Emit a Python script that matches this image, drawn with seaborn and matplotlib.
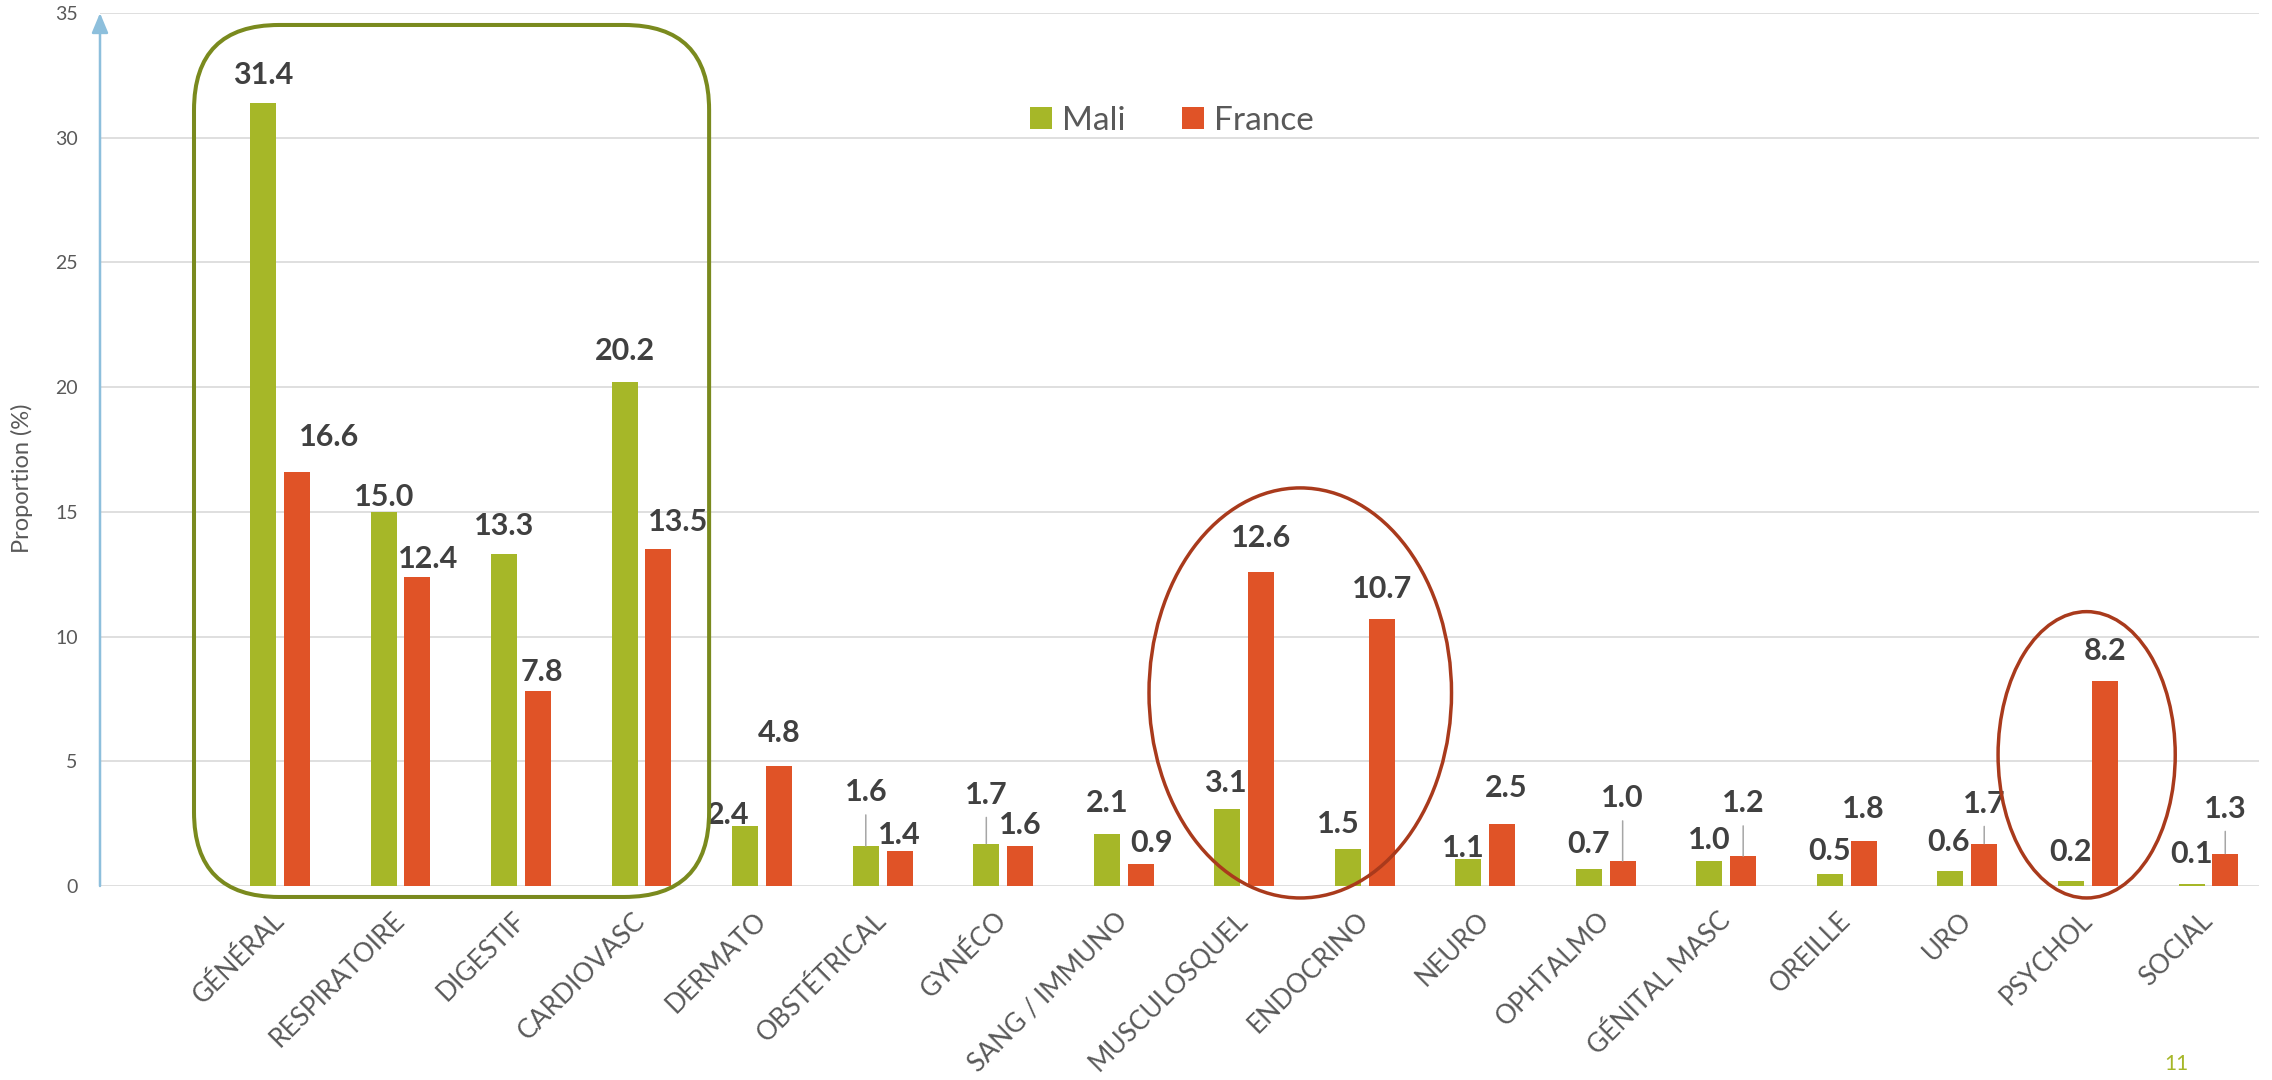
import matplotlib
matplotlib.use("Agg")
import matplotlib.pyplot as plt
from matplotlib.patches import Ellipse, FancyBboxPatch, Patch
from matplotlib.transforms import IdentityTransform
import seaborn as sns
import pandas as pd

categories = ["GÉNÉRAL", "RESPIRATOIRE", "DIGESTIF", "CARDIOVASC", "DERMATO",
              "OBSTÉTRICAL", "GYNÉCO", "SANG / IMMUNO", "MUSCULOSQUEL", "ENDOCRINO",
              "NEURO", "OPHTALMO", "GÉNITAL MASC", "OREILLE", "URO", "PSYCHOL", "SOCIAL"]
mali = [31.4, 15.0, 13.3, 20.2, 2.4, 1.6, 1.7, 2.1, 3.1, 1.5, 1.1, 0.7, 1.0, 0.5, 0.6, 0.2, 0.1]
france = [16.6, 12.4, 7.8, 13.5, 4.8, 1.4, 1.6, 0.9, 12.6, 10.7, 2.5, 1.0, 1.2, 1.8, 1.7, 8.2, 1.3]
series = ["Mali", "France"]
y_ticks = [0, 5, 10, 15, 20, 25, 30, 35]

# décalage des étiquettes (pixels) comme placées à la main dans Excel
mali_nudge = [(0, 28), (0, 15), (0, 28), (0, 31), (-17, 11), (0, 54), (0, 49), (0, 31), (-2, 26),
              (-10, 25), (-5, 11), (0, 25), (0, 21), (0, 23), (-2, 29), (0, 29), (0, 30)]
france_nudge = [(32, 35), (11, 18), (4, 19), (20, 27), (0, 33), (0, 16), (0, 21), (11, 21), (0, 34),
                (0, 30), (4, 36), (0, 63), (0, 53), (0, 32), (0, 40), (0, 30), (0, 45)]

GREEN = "#A6B728"
ORANGE = "#E05327"
OLIVE = "#7A8A1E"
BRICK = "#A93A1C"
GREY = "#595959"

sns.set_style("white")
plt.rcParams["font.family"] = ["Lato", "DejaVu Sans"]

df = pd.DataFrame({
    "Catégorie": categories * 2,
    "Pays": ["Mali"] * len(categories) + ["France"] * len(categories),
    "Proportion": mali + france,
})

fig = plt.figure(figsize=(22.72, 10.8), dpi=100)
ax = fig.add_axes([100 / 2272, 194 / 1080, 2159 / 2272, 873 / 1080])
sns.barplot(data=df, x="Catégorie", y="Proportion", hue="Pays", order=categories,
            hue_order=series, palette=[GREEN, ORANGE], saturation=1, width=0.56, gap=0.23,
            linewidth=0, errorbar=None, legend=False, ax=ax)

ax.set_xlim(-1.494, 16.42)
ax.set_ylim(0, 35)
ax.set_yticks(y_ticks)
ax.yaxis.grid(True, color="#D9D9D9", lw=1.2)
ax.xaxis.grid(False)
ax.set_axisbelow(True)
for s in ax.spines.values():
    s.set_visible(False)
ax.tick_params(axis="both", length=0)
ax.tick_params(axis="y", labelsize=14, labelcolor=GREY, pad=16)
ax.tick_params(axis="x", labelsize=19, labelcolor=GREY, pad=22)
ax.set_xticks(range(len(categories)))
ax.set_xticklabels(categories, rotation=45, ha="right", va="center", rotation_mode="anchor")
ax.set_xlabel("")
ax.set_ylabel("Proportion (%)", fontsize=17, color=GREY)
ax.yaxis.set_label_coords(-0.031, 0.467)

# axe vertical en flèche
ax.annotate("", xy=(0, 1), xytext=(0, 0), xycoords="axes fraction",
            arrowprops=dict(arrowstyle="-|>,head_length=0.6,head_width=0.25", color="#8DBFDC",
                            lw=1.8, mutation_scale=20, shrinkA=0, shrinkB=0))

# étiquettes de données
for container, nudges in zip(ax.containers, [mali_nudge, france_nudge]):
    for bar, (dx, dy) in zip(container, nudges):
        x = bar.get_x() + bar.get_width() / 2
        h = bar.get_height()
        leader = None
        if dy > 38:
            leader = dict(arrowstyle="-", color="#A6A6A6", lw=1.1, shrinkA=4, shrinkB=0)
        ax.annotate(f"{h:.1f}", xy=(x, h), xytext=(dx, dy), textcoords="offset pixels",
                    ha="center", va="center", fontsize=22, fontweight="bold", color="#404040",
                    arrowprops=leader, annotation_clip=False, zorder=4)

# cadre arrondi autour des 4 premiers groupes
x0, y0 = ax.transData.transform((-0.714, -0.44))
x1, y1 = ax.transData.transform((3.56, 34.52))
box = FancyBboxPatch((x0, y0), x1 - x0, y1 - y0, boxstyle="round,pad=0,rounding_size=85",
                     transform=IdentityTransform(), fill=False, edgecolor=OLIVE, lw=2.9,
                     clip_on=False, zorder=5)
ax.add_patch(box)

ax.add_patch(Ellipse((8.465, 7.74), 2.51, 16.44, fill=False, edgecolor=BRICK, lw=2.5,
                     clip_on=False, zorder=5))
ax.add_patch(Ellipse((14.99, 5.26), 1.47, 11.48, fill=False, edgecolor=BRICK, lw=2.5,
                     clip_on=False, zorder=5))

handles = [Patch(facecolor=c, edgecolor="none") for c in [GREEN, ORANGE]]
fig.legend(handles, series, loc="center", bbox_to_anchor=(1172 / 2272, 1 - 121 / 1080), ncol=2,
           frameon=False, fontsize=24, handlelength=0.65, handleheight=0.65, handletextpad=0.3,
           columnspacing=1.7, labelcolor=GREY, borderpad=0)

fig.text(2176 / 2272, 1 - 1064 / 1080, "11", color=GREEN, fontsize=15, ha="center", va="center")

fig.savefig("out.png", dpi=100)
plt.close(fig)
